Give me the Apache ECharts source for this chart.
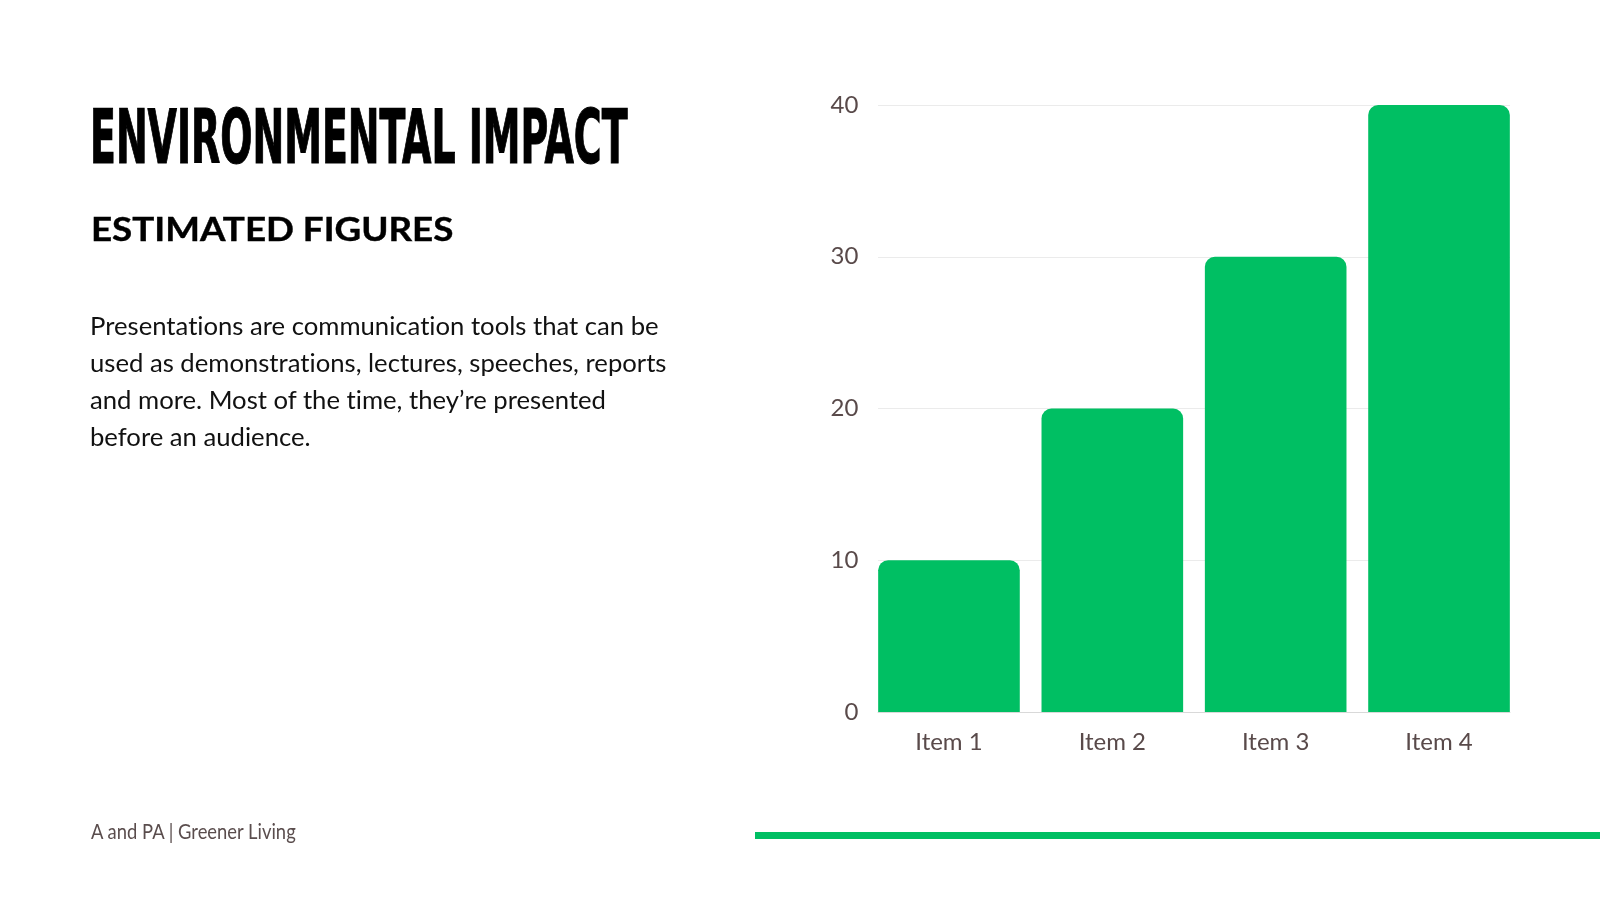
<!DOCTYPE html>
<html>
<head>
<meta charset="utf-8">
<script src="https://cdn.jsdelivr.net/npm/echarts@6/dist/echarts.min.js"></script>
<style>
  html, body { margin: 0; padding: 0; background: #fff; }
  #palco { position: relative; width: 1600px; height: 900px; overflow: hidden; }
  #grafico { position: absolute; left: 0; top: 0; width: 1600px; height: 900px; }
  .txt { position: absolute; white-space: nowrap; transform-origin: 0 0; margin: 0; font-variant-ligatures: none; }
  .titulo { font-family: "Liberation Sans Narrow", "DejaVu Sans Condensed", sans-serif; font-weight: 700; color: #000; -webkit-text-stroke: 1.2px #000; }
  .sub { font-family: Lato, "Noto Sans", sans-serif; font-weight: 700; color: #000; -webkit-text-stroke: 0.4px #000; }
  .corpo { font-family: Lato, "Noto Sans", sans-serif; font-weight: 400; color: #111; }
  .rodape { font-family: Lato, "Noto Sans", sans-serif; font-weight: 400; color: #5a4d4d; }
  #faixa { position: absolute; left: 755px; top: 832px; width: 845px; height: 7px; background: #00bf63; }
</style>
</head>
<body>
<div id="palco">
  <div id="grafico"></div>
  <div class="txt titulo" id="t-titulo">ENVIRONMENTAL IMPACT</div>
  <div class="txt sub" id="t-sub">ESTIMATED FIGURES</div>
  <div class="txt corpo" id="t-l1">Presentations are communication tools that can be</div>
  <div class="txt corpo" id="t-l2">used as demonstrations, lectures, speeches, reports</div>
  <div class="txt corpo" id="t-l3">and more. Most of the time, they’re presented</div>
  <div class="txt corpo" id="t-l4">before an audience.</div>
  <div class="txt rodape" id="t-rodape">A and PA | Greener Living</div>
  <div id="faixa"></div>
</div>
<script>
// dados do gráfico
const categorias = ["Item 1", "Item 2", "Item 3", "Item 4"];
const valores = [10, 20, 30, 40];
const eixoYMin = 0;
const eixoYMax = 40;
const eixoYPasso = 10;

const VERDE = "#00bf63";
const ROTULO = "#594a4a";
const ROTULO_FONTE = { color: ROTULO, fontSize: 24, fontFamily: "Lato, sans-serif" };

const g = echarts.init(document.getElementById("grafico"), null, { renderer: "canvas" });
g.setOption({
  animation: false,
  // grid 0: barras e rótulos; grid 1: só as linhas de grade, da borda da 1ª à borda da última barra
  grid: [
    { left: 867.3, right: 79.3, top: 105, bottom: 188, containLabel: false },
    { left: 878, right: 90, top: 105, bottom: 188, containLabel: false },
  ],
  xAxis: [
    {
      type: "category",
      gridIndex: 0,
      data: categorias,
      axisTick: { show: false },
      axisLine: { show: false },
      axisLabel: { ...ROTULO_FONTE, margin: 18 },
    },
    {
      type: "value",
      gridIndex: 1,
      min: 0,
      max: 1,
      axisTick: { show: false },
      axisLabel: { show: false },
      splitLine: { show: false },
      axisLine: { show: true, lineStyle: { color: "#d9d9d9", width: 1 } },
    },
  ],
  yAxis: [
    {
      type: "value",
      gridIndex: 0,
      min: eixoYMin,
      max: eixoYMax,
      interval: eixoYPasso,
      axisLine: { show: false },
      axisTick: { show: false },
      axisLabel: { ...ROTULO_FONTE, margin: 9, padding: [0, 0, -2, 0] },
      splitLine: { show: false },
    },
    {
      type: "value",
      gridIndex: 1,
      min: eixoYMin,
      max: eixoYMax,
      interval: eixoYPasso,
      axisLine: { show: false },
      axisTick: { show: false },
      axisLabel: { show: false },
      splitLine: { lineStyle: { color: "#ebebeb", width: 1 } },
    },
  ],
  series: [{
    type: "bar",
    xAxisIndex: 0,
    yAxisIndex: 0,
    data: valores,
    barCategoryGap: "13.3%",
    z: 3,
    itemStyle: { color: VERDE, borderRadius: [10, 10, 0, 0] },
    silent: true,
  }],
});

// encaixa um texto: altura de maiúscula, linha de base, borda esquerda e largura da tinta
const ctx = document.createElement("canvas").getContext("2d");
function medir(el, tam, texto) {
  const cs = getComputedStyle(el);
  ctx.font = `${cs.fontWeight} ${tam}px ${cs.fontFamily}`;
  return ctx.measureText(texto);
}
function encaixar(el, { cap, base, esq, larg, escala, origem }) {
  const ref = 100;
  const capRef = medir(el, ref, "H").actualBoundingBoxAscent;
  const tam = ref * cap / capRef;
  const m = medir(el, tam, el.textContent);
  const tinta = m.actualBoundingBoxLeft + m.actualBoundingBoxRight;
  const sx = escala || (larg ? larg / tinta : 1);
  const A = m.fontBoundingBoxAscent, D = m.fontBoundingBoxDescent;
  const desloc = (tam - (A + D)) / 2 + A;
  el.style.fontSize = tam + "px";
  el.style.lineHeight = tam + "px";
  el.style.top = (base - desloc) + "px";
  el.style.left = (origem != null ? origem : esq + m.actualBoundingBoxLeft * sx) + "px";
  el.style.transform = `scaleX(${sx})`;
  return { sx, tinta };
}

function montar() {
  const $ = (id) => document.getElementById(id);
  encaixar($("t-titulo"), { cap: 55, base: 163.4, esq: 93.3, larg: 534 });
  encaixar($("t-sub"), { cap: 24, base: 242, esq: 93, larg: 359 });
  // parágrafo: escala única pela linha mais larga, mesma origem para as quatro linhas
  const capCorpo = 17.6, x0 = 89.5;
  const r = encaixar($("t-l2"), { cap: capCorpo, base: 373, esq: 90.6, larg: 575.4, origem: x0 });
  encaixar($("t-l1"), { cap: capCorpo, base: 336, escala: r.sx, origem: x0 });
  encaixar($("t-l3"), { cap: capCorpo, base: 410, escala: r.sx, origem: x0 });
  encaixar($("t-l4"), { cap: capCorpo, base: 447, escala: r.sx, origem: x0 });
  encaixar($("t-rodape"), { cap: 16, base: 839, esq: 90.7, larg: 206 });
}
document.fonts.ready.then(montar);
</script>
</body>
</html>
